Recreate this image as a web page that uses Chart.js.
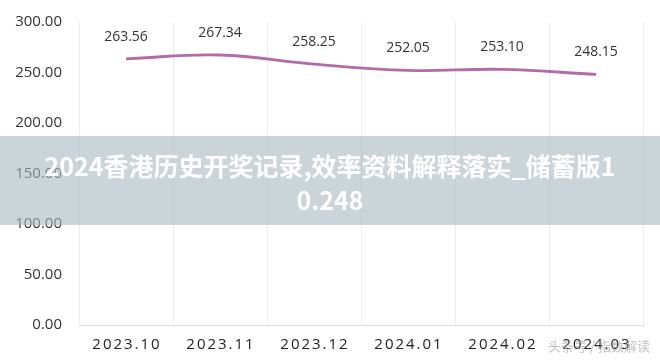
<!DOCTYPE html>
<html>
<head>
<meta charset="utf-8">
<script src="https://cdn.jsdelivr.net/npm/chart.js@4/dist/chart.umd.min.js"></script>
<style>
  html, body { margin: 0; padding: 0; background: #fff; }
  #wrap { position: relative; width: 660px; height: 363px; overflow: hidden; }
  #banner {
    position: absolute; left: 0; top: 136px; width: 660px; height: 89px;
    background: rgba(168, 183, 190, 0.6);
    color: #fff; font: bold 25px "Noto Sans CJK SC", "Noto Sans", sans-serif;
    text-align: center; line-height: 34px; padding-top: 12px; box-sizing: border-box;
  }
  #mark {
    position: absolute; right: 10px; top: 336px;
    color: rgba(150, 150, 150, 0.6); font: 13px "Noto Sans CJK SC", sans-serif;
  }
</style>
</head>
<body>
<div id="wrap">
  <canvas id="c" width="660" height="363"></canvas>
  <div id="banner">2024香港历史开奖记录,效率资料解释落实_储蓄版1<br>0.248</div>
  <div id="mark">头条号 / 指数解读</div>
</div>
<script>
// Data
const months = ['2023.10', '2023.11', '2023.12', '2024.01', '2024.02', '2024.03'];
const prices = [263.56, 267.34, 258.25, 252.05, 253.10, 248.15];
const yTicks = [0, 50, 100, 150, 200, 250, 300];

const lineColor = '#b36aab';

// value labels above each point + letter-spaced month labels
const labelPlugin = {
    id: 'labels',
    afterDraw(chart) {
        const ctx = chart.ctx;
        const meta = chart.getDatasetMeta(0);
        ctx.save();
        ctx.fillStyle = '#333';
        ctx.font = '14px "Open Sans", sans-serif';
        ctx.textAlign = 'center';
        ctx.textBaseline = 'middle';
        meta.data.forEach((pt, i) => {
            ctx.fillText(prices[i].toFixed(2), pt.x, pt.y - 22);
        });

        const xs = chart.scales.x;
        ctx.fillStyle = '#222';
        ctx.font = '15px "Open Sans", sans-serif';
        ctx.letterSpacing = '2px';
        months.forEach((m, i) => {
            ctx.fillText(m, xs.getPixelForValue(i) + 1, 345);
        });
        ctx.restore();
    }
};

new Chart(document.getElementById('c'), {
    type: 'line',
    data: {
        labels: months,
        datasets: [{
            data: prices,
            borderColor: lineColor,
            borderWidth: 2.8,
            tension: 0.4,
            pointRadius: 0,
            fill: false
        }]
    },
    options: {
        responsive: false,
        animation: false,
        layout: { padding: { top: 22, right: 17, left: 0, bottom: 0 } },
        plugins: { legend: { display: false }, tooltip: { enabled: false } },
        scales: {
            x: {
                offset: true,
                grid: { display: true, offset: true, color: '#ececec', drawTicks: false },
                border: { display: true, color: '#dcdcdc', width: 1 },
                ticks: { display: false },
                afterFit: (s) => { s.height = 38; }
            },
            y: {
                min: 0,
                max: 300,
                afterBuildTicks: (s) => { s.ticks = yTicks.map(v => ({ value: v })); },
                grid: { display: false },
                border: { display: false },
                ticks: {
                    color: '#333',
                    padding: 9,
                    font: { family: '"Open Sans", sans-serif', size: 15 },
                    callback: (v) => Number(v).toFixed(2)
                },
                afterFit: (s) => { s.width = 79; }
            }
        }
    },
    plugins: [labelPlugin]
});
</script>
</body>
</html>
